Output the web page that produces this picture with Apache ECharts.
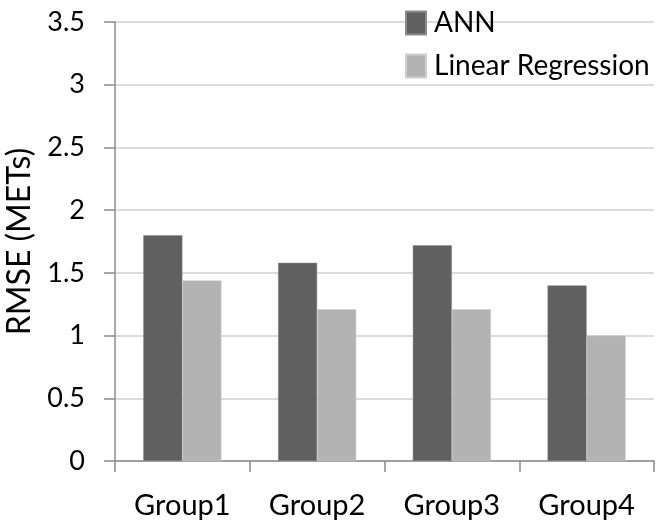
<!DOCTYPE html>
<html>
<head>
<meta charset="utf-8">
<script src="https://cdn.jsdelivr.net/npm/echarts@6/dist/echarts.min.js"></script>
<style>html,body{margin:0;padding:0;background:#fff}#c{width:657px;height:531px}</style>
</head>
<body>
<div id="c"></div>
<script>
const categories = ['Group1', 'Group2', 'Group3', 'Group4'];
const annValues = [1.80, 1.58, 1.72, 1.40];
const lrValues = [1.44, 1.21, 1.21, 1.00];
const seriesNames = ['ANN', 'Linear Regression'];
const yAxisName = 'RMSE (METs)';

const FONT = 'Lato';
const chart = echarts.init(document.getElementById('c'), null, {renderer: 'canvas'});
chart.setOption({
  animation: false,
  backgroundColor: '#ffffff',
  textStyle: {fontFamily: FONT},
  legend: {
    orient: 'vertical',
    left: 400,
    top: 4,
    itemWidth: 20,
    itemHeight: 23,
    itemGap: 15,
    icon: 'rect',
    textStyle: {fontFamily: FONT, fontSize: 28, color: '#000', padding: [0, 0, 0, 3]},
    data: seriesNames
  },
  grid: {left: 115, right: 3, top: 22, bottom: 70, containLabel: false, outerBoundsMode: 'none'},
  xAxis: {
    type: 'category',
    data: categories,
    axisLine: {lineStyle: {color: '#8c8c8c', width: 1.5}},
    axisTick: {show: true, length: 11, lineStyle: {color: '#8c8c8c', width: 1.5}},
    axisLabel: {fontFamily: FONT, fontSize: 29, color: '#000', margin: 30, interval: 0}
  },
  yAxis: {
    type: 'value',
    min: 0,
    max: 3.5,
    interval: 0.5,
    name: yAxisName,
    nameLocation: 'middle',
    nameGap: 79,
    nameTextStyle: {fontFamily: FONT, fontSize: 32, color: '#000'},
    axisLine: {show: true, lineStyle: {color: '#8c8c8c', width: 1.5}},
    axisTick: {show: true, length: 11, lineStyle: {color: '#8c8c8c', width: 1.5}},
    axisLabel: {fontFamily: FONT, fontSize: 27, color: '#000', margin: 30},
    splitLine: {lineStyle: {color: '#dcdcdc', width: 2}}
  },
  series: [
    {name: seriesNames[0], type: 'bar', data: annValues, barGap: '0%', barCategoryGap: '42%',
     itemStyle: {color: '#606060', borderColor: '#8a8a8a', borderWidth: 0.5}},
    {name: seriesNames[1], type: 'bar', data: lrValues, barGap: '0%', barCategoryGap: '42%',
     itemStyle: {color: '#b3b3b3', borderColor: '#cfcfcf', borderWidth: 0.5}}
  ]
});
</script>
</body>
</html>
